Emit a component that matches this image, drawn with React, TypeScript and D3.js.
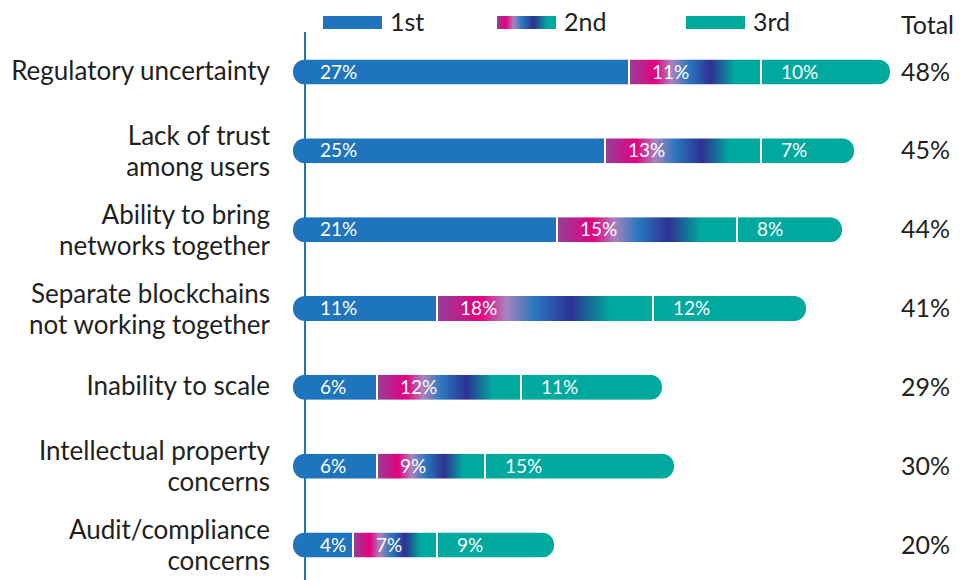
import React from "react";
import * as d3 from "d3";

const categories = [
  "Regulatory uncertainty",
  "Lack of trust\namong users",
  "Ability to bring\nnetworks together",
  "Separate blockchains\nnot working together",
  "Inability to scale",
  "Intellectual property\nconcerns",
  "Audit/compliance\nconcerns",
];
const first = [27, 25, 21, 11, 6, 6, 4];
const second = [11, 13, 15, 18, 12, 9, 7];
const third = [10, 7, 8, 12, 11, 15, 9];
const totals = [48, 45, 44, 41, 29, 30, 20];
const seriesNames = ["1st", "2nd", "3rd"];

const BLUE = "#1f75bd";
const TEAL = "#00a99d";
const TEXT = "#231f20";
const FONT = "Lato, 'Open Sans', sans-serif";

export default function App() {
  const width = 960;
  const height = 580;
  const x = d3.scaleLinear().domain([0, 10]).range([305, 425]);
  const y = d3.scalePoint<string>().domain(categories).range([72, 545]);
  const barH = 25;
  const padL = 12;
  const padR = 9;

  const gradStops = [
    [0, "#93409a"],
    [0.2, "#e6007e"],
    [0.32, "#a883bd"],
    [0.45, "#2a78c0"],
    [0.62, "#2e3192"],
    [0.8, "#00a99d"],
    [1, "#00a99d"],
  ];

  return (
    <svg
      width={width}
      height={height}
      style={{ position: "absolute", left: 0, top: 0, background: "#fff" }}
      fontFamily={FONT}
    >
      <defs>
        <linearGradient id="g2" x1="0" x2="1" y1="0" y2="0">
          {gradStops.map(([o, c], i) => (
            <stop key={i} offset={o as number} stopColor={c as string} />
          ))}
        </linearGradient>
        <linearGradient id="g2legend" x1="0" x2="1" y1="0" y2="0">
          <stop offset={0} stopColor="#93409a" />
          <stop offset={0.15} stopColor="#e6007e" />
          <stop offset={0.28} stopColor="#a883bd" />
          <stop offset={0.42} stopColor="#2a78c0" />
          <stop offset={0.62} stopColor="#2e3192" />
          <stop offset={0.85} stopColor="#00a99d" />
          <stop offset={1} stopColor="#00a99d" />
        </linearGradient>
        {categories.map((c, i) => {
          const cy = y(c)!;
          const x0 = x(0) - padL;
          const x1 = x(totals[i]) + padR;
          return (
            <clipPath id={`clip${i}`} key={i}>
              <rect x={x0} y={cy - barH / 2} width={x1 - x0} height={barH} rx={12} ry={12} />
            </clipPath>
          );
        })}
      </defs>

      {/* Legend */}
      {seriesNames.map((s, i) => {
        const lx = [323, 497, 686][i];
        return (
          <g key={s}>
            <rect
              x={lx}
              y={16}
              width={59}
              height={13}
              fill={i === 0 ? BLUE : i === 1 ? "url(#g2legend)" : TEAL}
            />
            <text x={lx + 67} y={31} fontSize={25} fill={TEXT}>
              {s}
            </text>
          </g>
        );
      })}
      <text x={901} y={34} fontSize={25} fill={TEXT}>
        Total
      </text>

      {/* Axis */}
      <line x1={x(0)} x2={x(0)} y1={32} y2={height} stroke={BLUE} strokeWidth={2} />

      {categories.map((c, i) => {
        const cy = y(c)!;
        const c1 = first[i];
        const c2 = first[i] + second[i];
        const t = totals[i];
        const top = cy - barH / 2;
        const lines = c.split("\n");
        return (
          <g key={c}>
            <g clipPath={`url(#clip${i})`}>
              <rect x={x(0) - padL} y={top} width={x(c1) - x(0) + padL} height={barH} fill={BLUE} />
              <rect x={x(c1)} y={top} width={x(c2) - x(c1)} height={barH} fill="url(#g2)" />
              <rect x={x(c2)} y={top} width={x(t) + padR - x(c2)} height={barH} fill={TEAL} />
              <rect x={x(c1) - 1} y={top} width={2} height={barH} fill="#fff" />
              <rect x={x(c2) - 1} y={top} width={2} height={barH} fill="#fff" />
            </g>
            <text x={x(0) + 15} y={cy + 6.5} fontSize={19} fill="#fff">
              {c1}%
            </text>
            <text x={x(c1) + 23} y={cy + 6.5} fontSize={19} fill="#fff">
              {second[i]}%
            </text>
            <text x={x(c2) + 20} y={cy + 6.5} fontSize={19} fill="#fff">
              {third[i]}%
            </text>
            <text x={901} y={cy + 8.5} fontSize={25} fill={TEXT}>
              {t}%
            </text>
            {lines.map((l, j) => (
              <text
                key={j}
                x={270}
                y={cy + 8 + (lines.length === 1 ? 0 : j === 0 ? -14 : 17)}
                fontSize={26}
                fill={TEXT}
                textAnchor="end"
              >
                {l}
              </text>
            ))}
          </g>
        );
      })}
    </svg>
  );
}
